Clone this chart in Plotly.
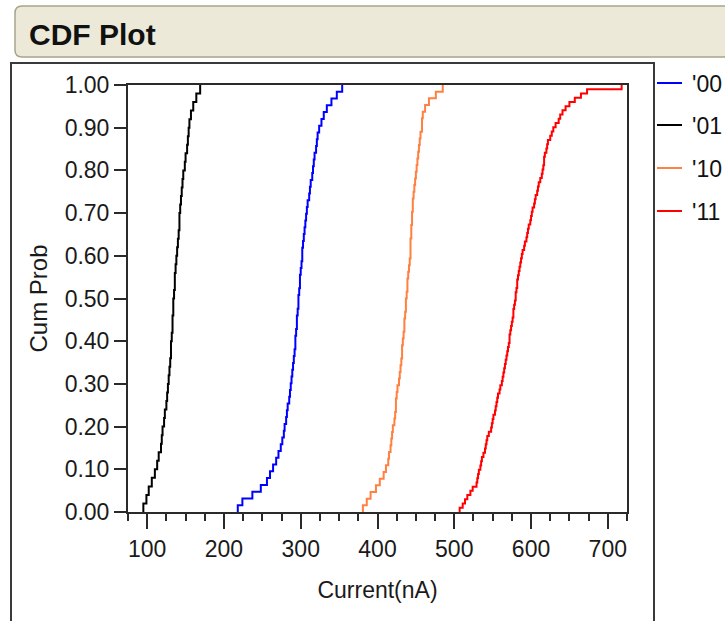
import numpy as np
import plotly.graph_objects as go

# Measured current (nA) per group, sorted ascending
groups = ["'00", "'01", "'10", "'11"]
colors = ["#0000FF", "#000000", "#FF8040", "#FF0000"]

current_00 = [218, 224, 237, 248, 256, 260, 264, 268, 271, 274, 276, 278, 279, 281, 282, 283,
              285, 286, 287, 288, 289, 290, 291, 292, 293, 293, 294, 295, 295, 296, 297, 297,
              298, 299, 299, 300, 301, 302, 302, 303, 304, 305, 306, 307, 308, 309, 311, 312,
              313, 315, 316, 317, 318, 320, 321, 322, 324, 327, 330, 334, 340, 347, 354]
current_01 = [95, 99, 102, 106, 110, 113, 115, 118, 119, 120, 122, 123, 125, 126, 127, 128,
              129, 130, 131, 131, 132, 133, 133, 134, 134, 135, 136, 136, 137, 138, 139, 140,
              141, 142, 142, 143, 144, 145, 146, 147, 149, 150, 152, 153, 154, 155, 157, 160,
              164, 169]
current_10 = [381, 386, 391, 398, 403, 408, 411, 414, 415, 417, 418, 419, 420, 422, 423, 424,
              424, 425, 426, 428, 429, 430, 431, 432, 432, 433, 434, 435, 435, 436, 437, 437,
              438, 439, 439, 440, 441, 442, 443, 443, 443, 444, 444, 445, 445, 446, 446, 447,
              448, 449, 450, 451, 452, 453, 454, 455, 456, 458, 458, 459, 462, 467, 476, 485]
current_11 = [507, 511, 514, 517, 521, 524, 529, 530, 531, 532, 534, 535, 536, 538, 540, 541,
              542, 543, 545, 548, 549, 550, 551, 553, 554, 555, 556, 557, 559, 560, 562, 563,
              564, 565, 566, 567, 568, 569, 570, 571, 572, 572, 573, 574, 575, 576, 577, 577,
              578, 579, 580, 580, 581, 582, 582, 583, 584, 585, 586, 587, 588, 589, 591, 592,
              594, 595, 596, 597, 599, 600, 601, 602, 604, 605, 606, 608, 609, 610, 612, 614,
              615, 616, 617, 617, 618, 620, 621, 622, 625, 627, 629, 632, 636, 638, 641, 645,
              650, 657, 665, 673, 718]
series = [current_00, current_01, current_10, current_11]

x_ticks = [100, 200, 300, 400, 500, 600, 700]
y_ticks = [0.0, 0.1, 0.2, 0.3, 0.4, 0.5, 0.6, 0.7, 0.8, 0.9, 1.0]

W, H = 725, 621
ML, MR, MT, MB = 128, 98, 85, 109
PW, PH = W - ML - MR, H - MT - MB
FONT = "Liberation Sans, Arial, sans-serif"


def px(x):
    return (x - ML) / PW


def py(y):
    return (H - MB - y) / PH


fig = go.Figure()

# Empirical CDF step curves
for name, vals, col in zip(groups, series, colors):
    v = np.sort(np.asarray(vals, dtype=float))
    p = np.arange(1, len(v) + 1) / len(v)
    fig.add_trace(go.Scatter(
        x=np.concatenate([[v[0]], v]), y=np.concatenate([[0.0], p]),
        mode="lines", line=dict(color=col, width=2, shape="hv"),
        name=name, showlegend=False, hoverinfo="skip"))

shapes = []
annotations = []

# Header bar with rounded corners
x0, x1, y0, y1, r = 15, 740, 6, 57, 7
path = (f"M{px(x0 + r)},{py(y0)} L{px(x1)},{py(y0)} L{px(x1)},{py(y1)} "
        f"L{px(x0 + r)},{py(y1)} Q{px(x0)},{py(y1)} {px(x0)},{py(y1 - r)} "
        f"L{px(x0)},{py(y0 + r)} Q{px(x0)},{py(y0)} {px(x0 + r)},{py(y0)} Z")
shapes.append(dict(type="path", xref="paper", yref="paper", path=path,
                   fillcolor="#ECE9D8", line=dict(color="#A8A48C", width=1.5), layer="below"))
annotations.append(dict(text="<b>CDF Plot</b>", xref="paper", yref="paper",
                        x=px(27), y=py(34), xanchor="left", yanchor="middle", showarrow=False,
                        font=dict(family=FONT, size=30, color="#111111")))

# Outline framing the chart panel
shapes.append(dict(type="path", xref="paper", yref="paper",
                   path=f"M{px(11)},{py(640)} L{px(11)},{py(63)} L{px(654)},{py(63)} L{px(654)},{py(640)}",
                   line=dict(color="#3A3A3A", width=2)))

# Legend: short line sample + label per group
legend_rows = [83, 125, 168, 211]
for name, col, yy in zip(groups, colors, legend_rows):
    shapes.append(dict(type="line", xref="paper", yref="paper",
                       x0=px(657), x1=px(682), y0=py(yy), y1=py(yy),
                       line=dict(color=col, width=2)))
    annotations.append(dict(text=name, xref="paper", yref="paper", x=px(690), y=py(yy + 1),
                            xanchor="left", yanchor="middle", showarrow=False,
                            font=dict(family=FONT, size=23, color="#111111")))

axis_line = dict(showline=True, linecolor="#2A2A2A", linewidth=2, mirror=True,
                 showgrid=False, zeroline=False, ticks="outside", tickcolor="#2A2A2A",
                 tickwidth=2, tickfont=dict(family=FONT, size=23, color="#1A1A1A"))

fig.update_layout(
    width=W, height=H, autosize=False,
    margin=dict(l=ML, r=MR, t=MT, b=MB, pad=0),
    paper_bgcolor="white", plot_bgcolor="white",
    shapes=shapes, annotations=annotations,
    xaxis=dict(range=[75, 725], tickvals=x_ticks, ticklen=15,
               minor=dict(dtick=25, tick0=0, ticklen=7, ticks="outside",
                          tickwidth=2, tickcolor="#2A2A2A"),
               title=dict(text="Current(nA)", standoff=21,
                          font=dict(family=FONT, size=23, color="#1A1A1A")),
               **axis_line),
    yaxis=dict(range=[0, 1], tickvals=y_ticks, tickformat=".2f", ticklen=12,
               title=dict(text="Cum Prob", standoff=10,
                          font=dict(family=FONT, size=24, color="#1A1A1A")),
               **axis_line),
)

fig.write_html("out.html")
